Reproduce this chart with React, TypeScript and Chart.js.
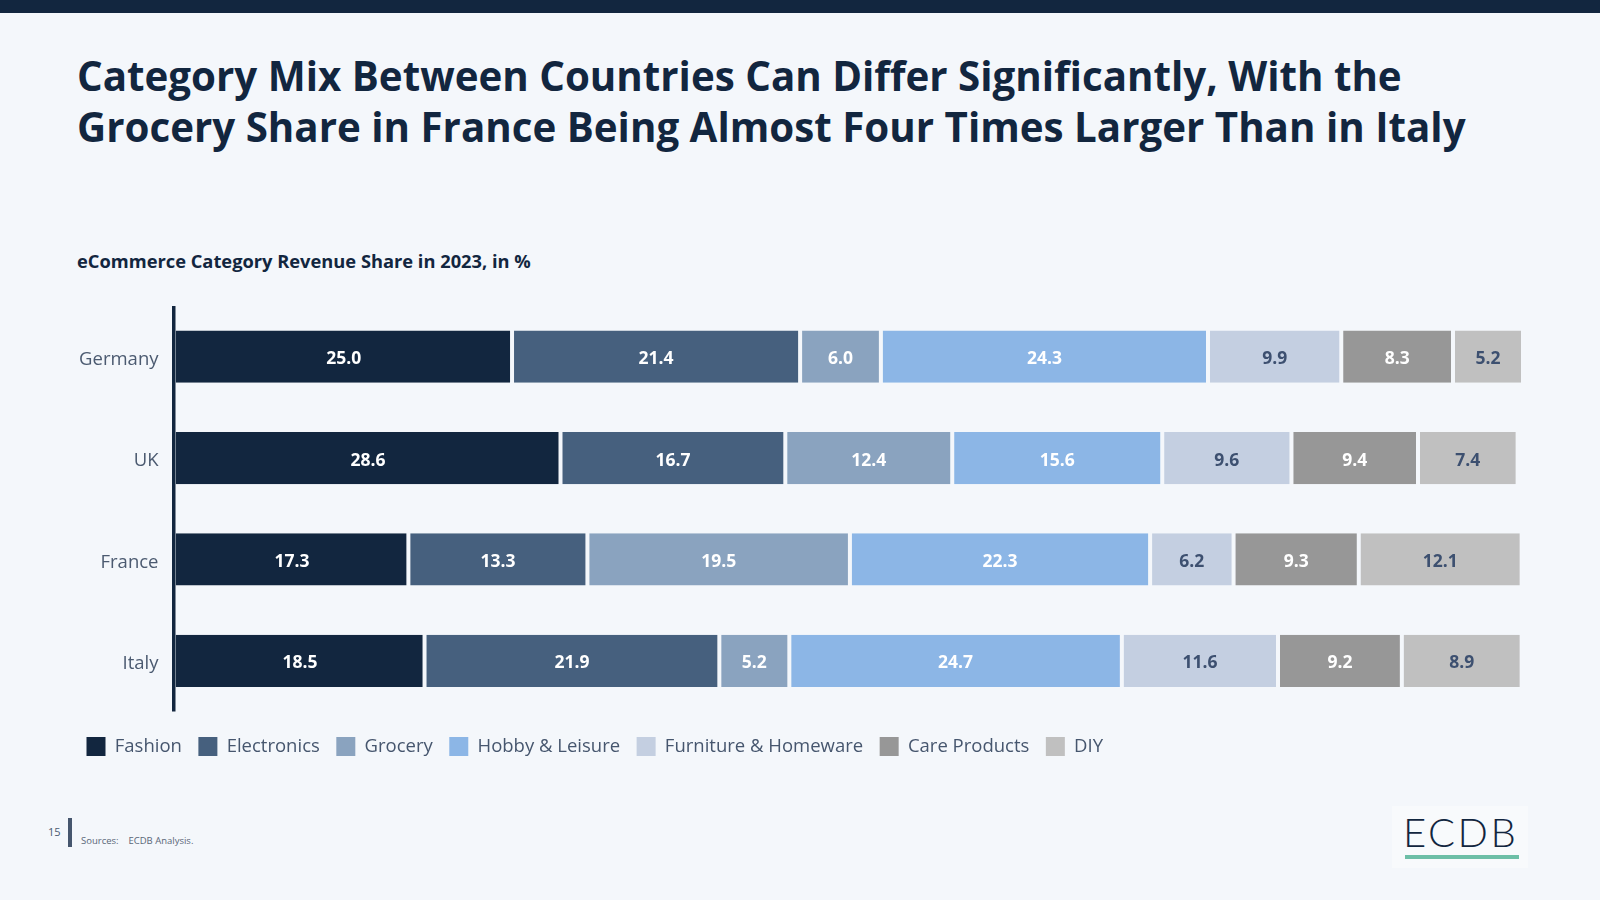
import React, { useEffect, useRef } from "react";
import { Chart, registerables } from "chart.js";

Chart.register(...registerables);

const countries = ["Germany", "UK", "France", "Italy"];
const categories = [
  "Fashion",
  "Electronics",
  "Grocery",
  "Hobby & Leisure",
  "Furniture & Homeware",
  "Care Products",
  "DIY",
];
const fashion = [25.0, 28.6, 17.3, 18.5];
const electronics = [21.4, 16.7, 13.3, 21.9];
const grocery = [6.0, 12.4, 19.5, 5.2];
const hobby = [24.3, 15.6, 22.3, 24.7];
const furniture = [9.9, 9.6, 6.2, 11.6];
const care = [8.3, 9.4, 9.3, 9.2];
const diy = [5.2, 7.4, 12.1, 8.9];
const seriesValues = [fashion, electronics, grocery, hobby, furniture, care, diy];

const colors = ["#12263f", "#46607e", "#8aa3bf", "#8cb6e6", "#c4cfe1", "#979797", "#c0c0c0"];
const labelColors = ["#ffffff", "#ffffff", "#ffffff", "#ffffff", "#3d5070", "#ffffff", "#3d5070"];

const BG = "#f4f7fb";
const NAVY = "#12263f";
const FONT = '"Open Sans", "Noto Sans", sans-serif';

const valueLabels = {
  id: "valueLabels",
  afterDatasetsDraw(chart: any) {
    const ctx = chart.ctx;
    ctx.save();
    ctx.font = `700 17.5px ${FONT}`;
    ctx.textAlign = "center";
    ctx.textBaseline = "middle";
    chart.data.datasets.forEach((ds: any, di: number) => {
      const meta = chart.getDatasetMeta(di);
      meta.data.forEach((el: any, i: number) => {
        const p = el.getProps(["x", "y", "base"], true);
        ctx.fillStyle = labelColors[di];
        ctx.fillText(Number(ds.data[i]).toFixed(1), (p.x + p.base) / 2, p.y + 2.5);
      });
    });
    const { left, top, bottom } = chart.chartArea;
    ctx.fillStyle = NAVY;
    ctx.fillRect(left - 3.5, top, 3.5, bottom - top);
    ctx.restore();
  },
};

export default function App() {
  const canvasRef = useRef<HTMLCanvasElement | null>(null);

  useEffect(() => {
    document.body.style.margin = "0";
    const canvas = canvasRef.current;
    if (!canvas) return;
    const chart = new Chart(canvas, {
      type: "bar",
      data: {
        labels: countries,
        datasets: seriesValues.map((vals, i) => ({
          label: categories[i],
          data: vals,
          backgroundColor: colors[i],
          borderColor: BG,
          borderWidth: { left: i === 0 ? 0 : 2, right: 2, top: 0, bottom: 0 },
          borderSkipped: false,
          barPercentage: 0.515,
          categoryPercentage: 1,
        })),
      },
      options: {
        indexAxis: "y",
        animation: false,
        responsive: false,
        maintainAspectRatio: false,
        devicePixelRatio: 1,
        layout: { padding: { left: 70, right: 77, top: 16, bottom: 0 } },
        scales: {
          x: {
            stacked: true,
            min: 0,
            max: 100.1,
            display: true,
            ticks: { display: false },
            grid: { display: false },
            border: { display: false },
            afterFit: (s: any) => {
              s.height = 9;
              s.paddingLeft = 0;
              s.paddingRight = 0;
            },
          },
          y: {
            stacked: true,
            grid: { display: false, drawTicks: false },
            border: { display: false },
            ticks: {
              color: "#4b5a70",
              font: { family: FONT, size: 18.5 },
              padding: 17,
              labelOffset: 3,
            },
            afterFit: (s: any) => {
              s.width = 105.5;
              s.paddingTop = 0;
              s.paddingBottom = 0;
            },
          },
        },
        plugins: {
          tooltip: { enabled: false },
          legend: {
            display: true,
            position: "bottom",
            align: "start",
            labels: {
              boxWidth: 19,
              boxHeight: 19,
              padding: 16.5,
              color: "#46566e",
              font: { family: FONT, size: 18.5 },
              generateLabels: (c: any) =>
                c.data.datasets.map((ds: any, i: number) => ({
                  text: ds.label,
                  fillStyle: colors[i],
                  strokeStyle: colors[i],
                  lineWidth: 0,
                  hidden: false,
                  datasetIndex: i,
                  fontColor: "#46566e",
                })),
            },
          },
        },
      },
      plugins: [valueLabels],
    } as any);
    return () => chart.destroy();
  }, []);

  return (
    <div
      style={{
        position: "relative",
        width: 1600,
        height: 900,
        background: BG,
        overflow: "hidden",
        fontFamily: FONT,
      }}
    >
      <div style={{ position: "absolute", left: 0, top: 0, width: 1600, height: 13, background: NAVY }} />
      <div
        style={{
          position: "absolute",
          left: 77,
          top: 50,
          width: 1500,
          fontSize: 40.3,
          lineHeight: "51px",
          fontWeight: 700,
          color: NAVY,
          whiteSpace: "nowrap",
        }}
      >
        Category Mix Between Countries Can Differ Significantly, With the
        <br />
        Grocery Share in France Being Almost Four Times Larger Than in Italy
      </div>
      <div
        style={{
          position: "absolute",
          left: 77,
          top: 248,
          fontSize: 18.3,
          fontWeight: 700,
          color: NAVY,
          whiteSpace: "nowrap",
        }}
      >
        eCommerce Category Revenue Share in 2023, in %
      </div>
      <canvas
        ref={canvasRef}
        width={1600}
        height={476}
        style={{ position: "absolute", left: 0, top: 290, width: 1600, height: 476 }}
      />
      <div style={{ position: "absolute", left: 48, top: 824, fontSize: 11, color: "#4b5a70" }}>15</div>
      <div style={{ position: "absolute", left: 68, top: 818, width: 4, height: 29, background: "#46566e" }} />
      <div
        style={{
          position: "absolute",
          left: 81,
          top: 834,
          fontSize: 9.5,
          color: "#5a6678",
          whiteSpace: "pre",
        }}
      >
        {"Sources:    ECDB Analysis."}
      </div>
      <div
        style={{
          position: "absolute",
          left: 1392,
          top: 806,
          width: 136,
          height: 62,
          background: "#f8fafc",
        }}
      />
      <div
        style={{
          position: "absolute",
          left: 1403,
          top: 806,
          fontSize: 40,
          fontFamily: "Lato, sans-serif",
          fontWeight: 300,
          color: NAVY,
          letterSpacing: 2.5,
          lineHeight: "52px",
        }}
      >
        ECDB
      </div>
      <div style={{ position: "absolute", left: 1405, top: 855, width: 114, height: 4, background: "#6dbfa7" }} />
    </div>
  );
}
